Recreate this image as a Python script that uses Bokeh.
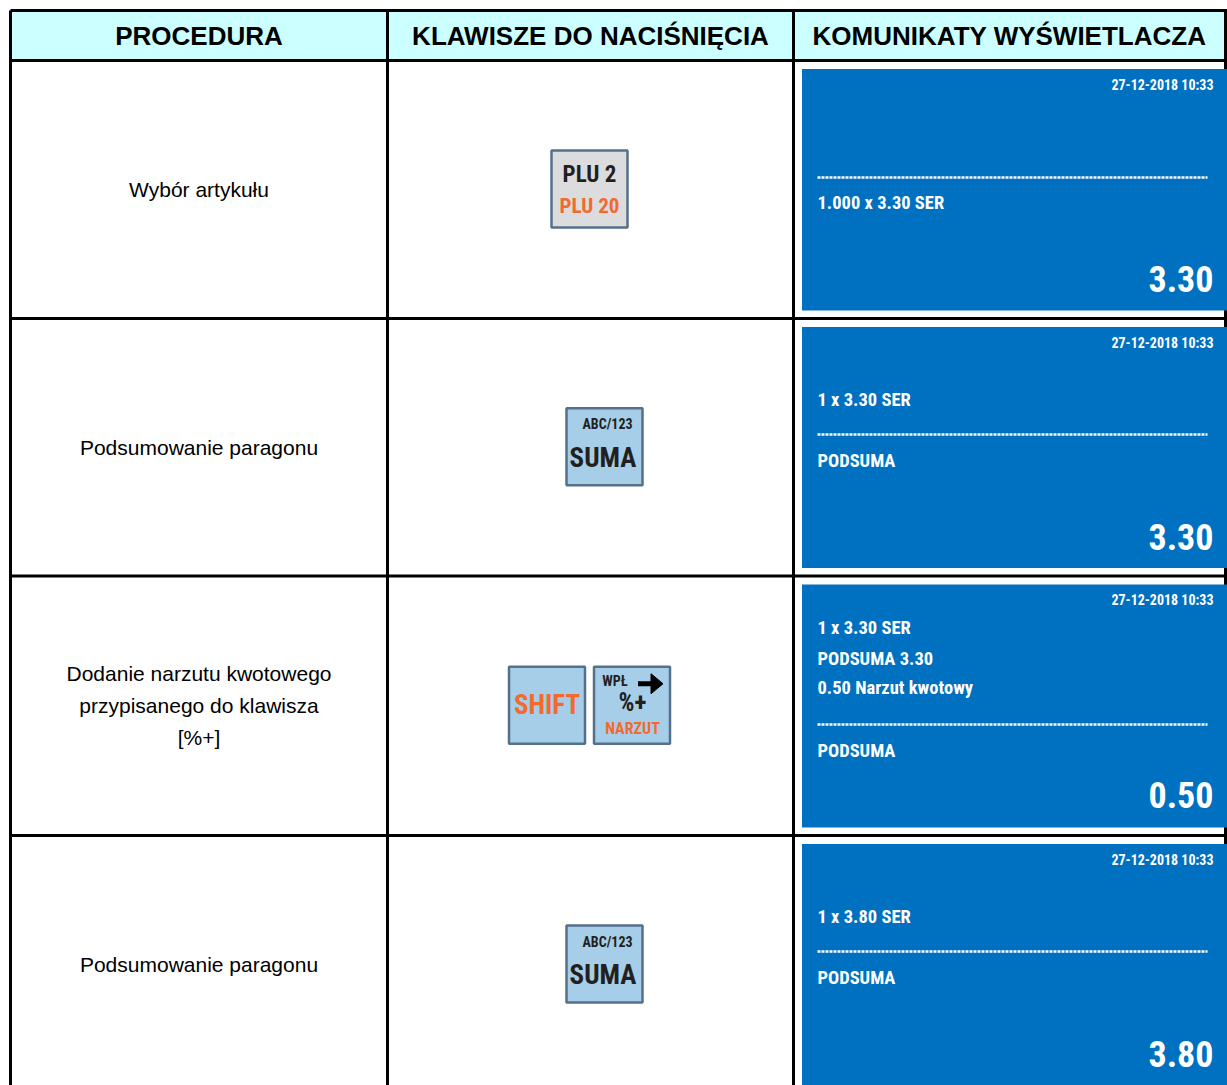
from bokeh.plotting import figure
from bokeh.models import Range1d
from bokeh.core.properties import value
from bokeh.embed import file_html
from bokeh.resources import INLINE

# ---------------- data ----------------
headers = ["PROCEDURA", "KLAWISZE DO NACIŚNIĘCIA", "KOMUNIKATY WYŚWIETLACZA"]
procedures = [
    ["Wybór artykułu"],
    ["Podsumowanie paragonu"],
    ["Dodanie narzutu kwotowego", "przypisanego do klawisza", "[%+]"],
    ["Podsumowanie paragonu"],
]
row_keys = [["PLU"], ["SUMA"], ["SHIFT", "NARZUT"], ["SUMA"]]
key_top = {"PLU": "", "SUMA": "ABC/123", "SHIFT": "", "NARZUT": "WPŁ"}
key_main = {"PLU": "PLU 2", "SUMA": "SUMA", "SHIFT": "SHIFT", "NARZUT": "%+"}
key_sub = {"PLU": "PLU 20", "SUMA": "", "SHIFT": "", "NARZUT": "NARZUT"}
display_date = ["27-12-2018 10:33"] * 4
display_above = [[], ["1 x 3.30 SER"], ["1 x 3.30  SER", "PODSUMA 3.30", "0.50 Narzut kwotowy"], ["1 x 3.80 SER"]]
display_below = ["1.000 x 3.30 SER", "PODSUMA", "PODSUMA", "PODSUMA"]
display_total = ["3.30", "3.30", "0.50", "3.80"]

# ---------------- layout ----------------
W, H = 1227, 1085
col_x = [10, 387, 793, 1225]
table_top = 10
row_tops = [60, 318, 575.5, 835, 1093]

TABLE_FONT = "Liberation Sans"
DISP_FONT = "'Roboto Condensed', 'Liberation Sans Narrow', 'DejaVu Sans Condensed', sans-serif"
HEADER_BG = "#CCFFFF"
PANEL = "#0070C0"
KEY_BLUE = "#A6CEE8"
KEY_GRAY = "#DCDCDE"
KEY_EDGE = "#56708A"
ORANGE = "#F26A30"
DARK = "#231F20"

p = figure(width=W, height=H, output_backend="svg", toolbar_location=None,
           x_range=Range1d(0, W), y_range=Range1d(H, 0),
           min_border=0, x_axis_type=None, y_axis_type=None)
p.grid.visible = False
p.outline_line_color = None
p.background_fill_color = "white"
p.border_fill_color = "white"


def put(xs, ys, texts, size, color, font, bold=False, align="left"):
    p.text(x=xs, y=ys, text=texts,
           text_font=value(font), text_font_size=f"{size}px",
           text_font_style="bold" if bold else "normal", text_color=color,
           text_align=align, text_baseline="middle")


# header background
p.quad(left=col_x[0], right=col_x[-1], top=table_top, bottom=row_tops[0],
       fill_color=HEADER_BG, line_color=None)

# grid lines
hl_y = [table_top] + row_tops[:-1]
p.segment(x0=[col_x[0]] * len(hl_y), x1=[W + 10] * len(hl_y), y0=hl_y, y1=hl_y,
          line_color="black", line_width=3)
p.segment(x0=col_x, x1=col_x, y0=[table_top] * len(col_x), y1=[row_tops[-1]] * len(col_x),
          line_color="black", line_width=3)

# header texts
col_centers = [(col_x[i] + col_x[i + 1]) / 2 for i in range(3)]
put(col_centers, [35.5] * 3, headers, 26, "black", TABLE_FONT, bold=True, align="center")

# procedure texts
for i, lines in enumerate(procedures):
    cy = (row_tops[i] + row_tops[i + 1]) / 2
    n = len(lines)
    ys = [cy + (j - (n - 1) / 2) * 32 for j in range(n)]
    put([col_centers[0]] * n, ys, lines, 21, "black", TABLE_FONT, align="center")

# keys
KW, KH = 76, 77
key_shift = [0, 15, 0, 15]
key_gap = 85
for i, keys in enumerate(row_keys):
    cy = (row_tops[i] + row_tops[i + 1]) / 2 - 0.5
    n = len(keys)
    for j, k in enumerate(keys):
        cx = col_centers[1] - 1 + key_shift[i] + (j - (n - 1) / 2) * key_gap
        fill = KEY_GRAY if k == "PLU" else KEY_BLUE
        p.rect(x=[cx], y=[cy], width=KW, height=KH, fill_color=fill,
               line_color=KEY_EDGE, line_width=2.5)
        if k == "PLU":
            put([cx], [cy - 15], [key_main[k]], 23, DARK, DISP_FONT, bold=True, align="center")
            put([cx], [cy + 17], [key_sub[k]], 21, ORANGE, DISP_FONT, bold=True, align="center")
        elif k == "SUMA":
            put([cx + 3], [cy - 22.5], [key_top[k]], 14, DARK, DISP_FONT, bold=True, align="center")
            put([cx - 1.5], [cy + 11], [key_main[k]], 27, DARK, DISP_FONT, bold=True, align="center")
        elif k == "SHIFT":
            put([cx], [cy], [key_main[k]], 27, ORANGE, DISP_FONT, bold=True, align="center")
        else:
            put([cx - 17], [cy - 24.5], [key_top[k]], 14, DARK, DISP_FONT, bold=True, align="center")
            put([cx + 0.5], [cy - 3], [key_main[k]], 25, DARK, DISP_FONT, bold=True, align="center")
            put([cx + 0.5], [cy + 23.5], [key_sub[k]], 16, ORANGE, DISP_FONT, bold=True, align="center")
            ay = cy - 21.5
            p.segment(x0=[cx + 6], x1=[cx + 22], y0=[ay], y1=[ay], line_color="black", line_width=5)
            p.patch(x=[cx + 19, cx + 31, cx + 19], y=[ay - 10, ay, ay + 10],
                    fill_color="black", line_color="black")

# display panels
PX0, PX1 = 801.5, W + 10
TX_L, TX_R = 817, 1213
for i in range(4):
    top = row_tops[i]
    p.quad(left=PX0, right=PX1, top=top + 8.5, bottom=row_tops[i + 1] - 8,
           fill_color=PANEL, line_color=None)
    put([TX_R], [top + 24], [display_date[i]], 14, "white", DISP_FONT, bold=True, align="right")
    above = display_above[i]
    if len(above) == 3:
        a_ys = [top + 51.5, top + 82.5, top + 111.5]
        dot_y, below_y = top + 148.5, top + 174.5
    elif len(above) == 1:
        a_ys = [top + 81]
        dot_y, below_y = top + 116, top + 142
    else:
        a_ys = []
        dot_y, below_y = top + 117, top + 142
    if above:
        put([TX_L] * len(above), a_ys, above, 18.5, "white", DISP_FONT, bold=True)
    p.segment(x0=[TX_L], x1=[1207], y0=[dot_y], y1=[dot_y], line_color="white",
              line_width=2.5, line_dash="3 1")
    put([TX_L], [below_y], [display_below[i]], 18.5, "white", DISP_FONT, bold=True)
    put([TX_R], [top + 218.5], [display_total[i]], 36, "white", DISP_FONT, bold=True, align="right")

open("out.html", "w").write(file_html(p, INLINE))
